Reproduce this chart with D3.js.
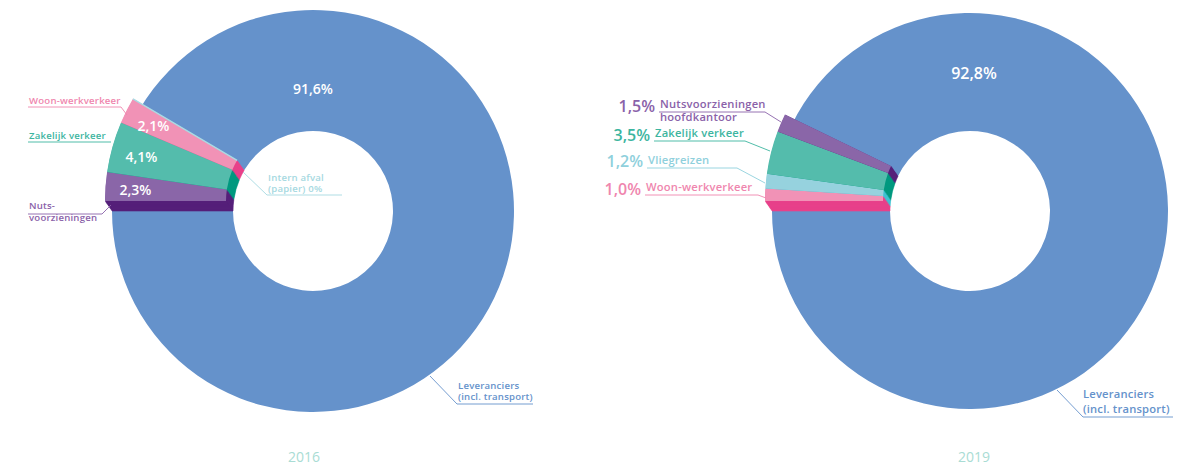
<!DOCTYPE html>
<html>
<head>
<meta charset="utf-8">
<script src="https://cdn.jsdelivr.net/npm/d3@7"></script>
<style>
  body { margin: 0; background: #fff; }
  text { font-family: "Open Sans", Lato, sans-serif; }
</style>
</head>
<body>
<script>
// data
const years = ["2016", "2019"];

const keys2016 = ["nuts", "zakelijk", "woon", "afval", "leveranciers"];
const labels2016 = [["Nuts-", "voorzieningen"], ["Zakelijk verkeer"], ["Woon-werkverkeer"],
                    ["Intern afval", "(papier) 0%"], ["Leveranciers", "(incl. transport)"]];
const values2016 = [2.3, 4.1, 2.1, 0, 91.6];

const keys2019 = ["woon", "vlieg", "zakelijk", "nuts", "leveranciers"];
const labels2019 = [["Woon-werkverkeer"], ["Vliegreizen"], ["Zakelijk verkeer"],
                    ["Nutsvoorzieningen", "hoofdkantoor"], ["Leveranciers", "(incl. transport)"]];
const values2019 = [1.0, 1.2, 3.5, 1.5, 92.8];

const WIDTH = 1198;
const HEIGHT = 467;
const LIFT = [-7, -10];   // how far the small slices are lifted
const STEPS = 12;

const keyDomain = ["leveranciers", "woon", "zakelijk", "nuts", "vlieg", "afval"];
const faceColor = d3.scaleOrdinal().domain(keyDomain)
  .range(["#6592cb", "#f192b6", "#54bcac", "#8a66a8", "#96d2de", "#a9dbe3"]);
const sideColor = d3.scaleOrdinal().domain(keyDomain)
  .range(["#6592cb", "#e8418a", "#00997f", "#56207a", "#3fc2d2", "#a9dbe3"]);
const textColor = d3.scaleOrdinal().domain(keyDomain)
  .range(["#6592cb", "#ef86ae", "#3db59f", "#8a62a9", "#8fd0dc", "#a6d9e1"]);

const fmt = v => v === 0 ? "0%" : d3.format(".1f")(v).replace(".", ",") + "%";

// label layout (positions only)
const layout2016 = {
  woon:     { x: 29, y: [104], size: 9.6, line: [[28, 107], [121, 107], [127, 115]] },
  zakelijk: { x: 29, y: [139], size: 9.6, line: [[28, 142], [111, 142]] },
  nuts:     { x: 29, y: [209, 221], size: 9.6, line: [[28, 214], [102, 214], [111, 205]] },
  afval:    { x: 268, y: [181, 192], size: 9.6, line: [[243, 172], [267, 195], [342, 195]] },
  leveranciers: { x: 458, y: [389, 400], size: 9.6, line: [[430, 376], [457, 404], [533, 404]] }
};
const layout2019 = {
  nuts:     { x: 660, y: [108, 121], size: 11.2, pctY: 112, line: [[659, 112], [765, 112], [781, 122]] },
  zakelijk: { x: 655, y: [137], size: 11.2, pctY: 141, line: [[654, 141], [745, 141], [770, 151]] },
  vlieg:    { x: 648, y: [164], size: 11.2, pctY: 167, line: [[647, 168], [737, 168], [765, 183]] },
  woon:     { x: 646, y: [191], size: 11.2, pctY: 195, line: [[645, 195], [758, 195], [766, 198]] },
  leveranciers: { x: 1083, y: [398, 413], size: 11.2, line: [[1057, 390], [1083, 417], [1173, 417]] }
};

const charts = [
  { year: years[0], keys: keys2016, labels: labels2016, values: values2016,
    cx: 313, cy: 211, ro: 201, ri: 80, layout: layout2016, inside: true,
    bigLabel: [0, -121], bigSize: 14 },
  { year: years[1], keys: keys2019, labels: labels2019, values: values2019,
    cx: 970, cy: 211, ro: 198, ri: 80, layout: layout2019, inside: false,
    bigLabel: [4, -136], bigSize: 16 }
];

const svg = d3.select("body")
  .append("svg")
  .attr("width", WIDTH)
  .attr("height", HEIGHT);

const pie = d3.pie()
  .sort(null)
  .value(d => d.value)
  .startAngle(-Math.PI / 2)
  .endAngle(Math.PI * 1.5);

charts.forEach(c => {
  const data = c.keys.map((k, i) => ({ key: k, value: c.values[i], label: c.labels[i] }));
  const arcs = pie(data);
  const arc = d3.arc().innerRadius(c.ri).outerRadius(c.ro);
  const g = svg.append("g").attr("transform", "translate(" + c.cx + "," + c.cy + ")");

  const main = arcs.filter(d => d.data.key === "leveranciers");
  const small = arcs.filter(d => d.data.key !== "leveranciers" && d.data.value > 0);
  const zero = arcs.filter(d => d.data.value === 0);

  g.selectAll(".main")
    .data(main)
    .enter()
    .append("path")
    .attr("class", "main")
    .attr("d", arc)
    .attr("fill", d => faceColor(d.data.key));

  // extruded sides: stack of copies between base and lifted face
  d3.range(STEPS).forEach(s => {
    const t = s / STEPS;
    g.append("g")
      .attr("transform", "translate(" + LIFT[0] * t + "," + LIFT[1] * t + ")")
      .selectAll("path")
      .data(small)
      .enter()
      .append("path")
      .attr("d", arc)
      .attr("fill", d => sideColor(d.data.key))
      .attr("stroke", d => sideColor(d.data.key))
      .attr("stroke-width", 0.6);
  });

  const top = g.append("g")
    .attr("transform", "translate(" + LIFT[0] + "," + LIFT[1] + ")");
  top.selectAll(".face")
    .data(small)
    .enter()
    .append("path")
    .attr("class", "face")
    .attr("d", arc)
    .attr("fill", d => faceColor(d.data.key));

  top.selectAll(".zero")
    .data(zero)
    .enter()
    .append("path")
    .attr("class", "zero")
    .attr("d", arc)
    .attr("fill", "none")
    .attr("stroke", d => faceColor(d.data.key))
    .attr("stroke-width", 1.4);

  // big percentage
  g.selectAll(".big")
    .data(main)
    .enter()
    .append("text")
    .attr("class", "big")
    .attr("x", c.bigLabel[0])
    .attr("y", c.bigLabel[1])
    .attr("text-anchor", "middle")
    .attr("dominant-baseline", "middle")
    .attr("fill", "#fff")
    .attr("font-weight", 600)
    .attr("font-size", c.bigSize)
    .text(d => fmt(d.data.value));

  if (c.inside) {
    const labelArc = d3.arc().innerRadius(171).outerRadius(171);
    top.selectAll(".pct")
      .data(small)
      .enter()
      .append("text")
      .attr("class", "pct")
      .attr("transform", d => "translate(" + labelArc.centroid(d) + ")")
      .attr("dy", 3)
      .attr("text-anchor", "middle")
      .attr("dominant-baseline", "middle")
      .attr("fill", "#fff")
      .attr("font-weight", 600)
      .attr("font-size", 14)
      .text(d => fmt(d.data.value));
  }

  // category labels with leader lines
  const lab = svg.append("g");
  data.forEach(d => {
    const L = c.layout[d.key];
    if (!L) return;
    lab.append("polyline")
      .attr("points", L.line.map(p => p.join(",")).join(" "))
      .attr("fill", "none")
      .attr("stroke", textColor(d.key))
      .attr("stroke-width", 0.9);
    d.label.forEach((t, i) => {
      lab.append("text")
        .attr("x", L.x)
        .attr("y", L.y[i])
        .attr("fill", textColor(d.key))
        .attr("font-weight", 600)
        .attr("font-size", L.size)
        .attr("letter-spacing", 0.2)
        .text(t);
    });
    if (L.pctY) {
      lab.append("text")
        .attr("x", L.x - 5)
        .attr("y", L.pctY)
        .attr("text-anchor", "end")
        .attr("fill", textColor(d.key))
        .attr("font-weight", 600)
        .attr("font-size", 16)
        .text(fmt(d.value));
    }
  });

  svg.append("text")
    .attr("x", c.cx + (c.inside ? -9 : 4))
    .attr("y", 462)
    .attr("text-anchor", "middle")
    .attr("fill", "#a9dcd4")
    .attr("font-weight", 400)
    .attr("font-size", 14)
    .text(c.year);
});
</script>
</body>
</html>
